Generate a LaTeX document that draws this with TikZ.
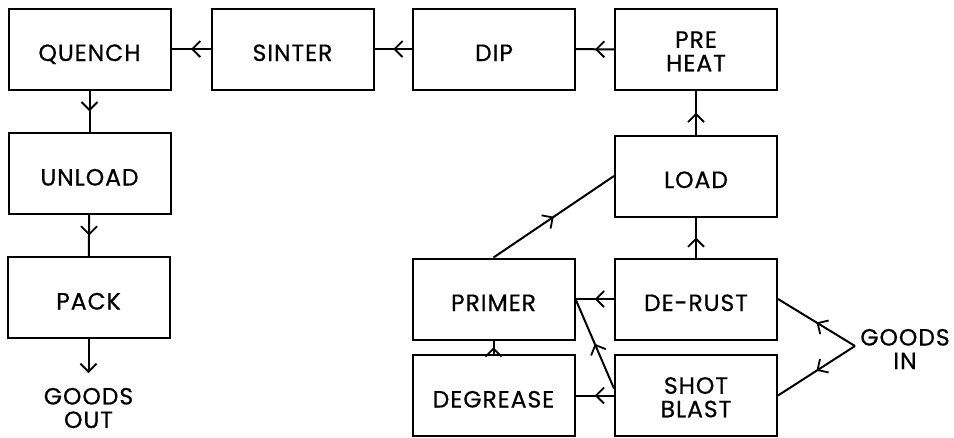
\documentclass[tikz,border=0pt]{standalone}
\usepackage{fontspec}
\setmainfont{Poppins}[LetterSpace=4,FakeBold=0.6]
\usetikzlibrary{arrows.meta,decorations.markings}
\tikzset{
  box/.style={draw, line width=2pt, minimum width=162pt, minimum height=81pt, inner sep=0pt,
    align=center, font=\fontsize{23.5}{23.5}\selectfont, text height=24pt, text depth=0pt},
  boxtwo/.style={box, text height=43.5pt, text depth=0pt},
  lbl/.style={align=center, inner sep=0pt, font=\fontsize{23.5}{23.5}\selectfont},
  flow/.style={line width=2pt, postaction={decorate}, decoration={markings,
    mark=at position 0.5 with {\arrow[line width=1.8pt]{Straight Barb[length=8pt,width=16pt]}}}},
  endflow/.style={line width=2pt, -{Straight Barb[length=8pt,width=16pt,line width=1.8pt]}}
}
\begin{document}
\begin{tikzpicture}[x=1pt,y=-1pt]
\useasboundingbox[fill=white] (0,0) rectangle (954,437);
\node[box] (quench) at (89.5,49) {QUENCH};
\node[box] (sinter) at (292.5,49) {SINTER};
\node[box] (dip) at (494,49) {DIP};
\node[boxtwo] (preheat) at (696,49.5) {PRE\\HEAT};
\node[box] (unload) at (89.5,173.5) {UNLOAD};
\node[box] (pack) at (88.5,297.5) {PACK};
\node[box] (load) at (696,176) {LOAD};
\node[box] (derust) at (696,299) {DE-RUST};
\node[boxtwo] (shotblast) at (696,395.5) {SHOT\\BLAST};
\node[box] (primer) at (493.5,299) {PRIMER};
\node[box] (degrease) at (493.5,395.5) {DEGREASE};
\node[lbl] (goodsout) at (88.5,408) {GOODS\\OUT};
\node[lbl] (goodsin) at (905,349) {GOODS\\IN};
\coordinate (outend) at (88.5,373);
\coordinate (invertex) at (855,346);

\draw[flow] (preheat) -- (dip);
\draw[flow] (dip) -- (sinter);
\draw[flow] (sinter) -- (quench);
\draw[flow] (quench) -- (unload);
\draw[flow] (unload) -- (pack);
\draw[endflow] (pack.south) -- (outend);
\draw[flow] (load) -- (preheat);
\draw[flow] (derust) -- (load);
\draw[flow] (primer.north) -- (load.west);
\draw[flow] (derust) -- (primer);
\draw[flow] (degrease) -- (primer);
\draw[flow] (shotblast) -- (degrease);
\draw[flow] ([yshift=7pt]shotblast.west) -- (primer.east);
\draw[flow] (invertex) -- (derust.east);
\draw[flow] (invertex) -- (shotblast.east);
\end{tikzpicture}
\end{document}
